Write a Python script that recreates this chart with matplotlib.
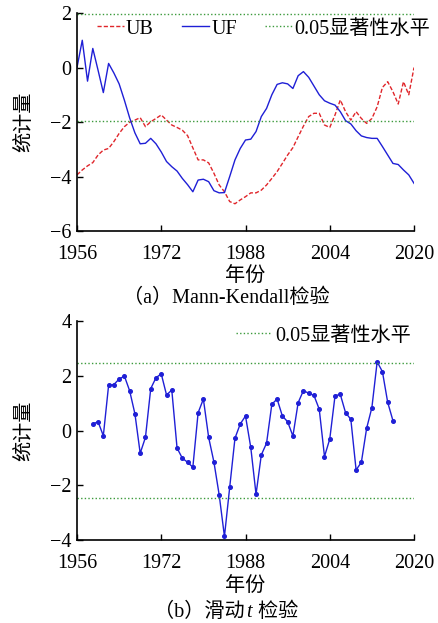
import numpy as np
import matplotlib
matplotlib.use("Agg")
import matplotlib.pyplot as plt
from matplotlib.offsetbox import TextArea, HPacker, AnchoredOffsetbox

plt.rcParams['font.family'] = ['Liberation Serif', 'Noto Sans CJK SC']
plt.rcParams['axes.unicode_minus'] = True

# ---- data ----
mk_years = np.arange(1956, 2021)
uf = [0.0, 1.0, -0.5, 0.7, -0.1, -0.92, 0.15, -0.2, -0.6, -1.2,
      -1.85, -2.4, -2.8, -2.78, -2.6, -2.8, -3.1, -3.45, -3.64, -3.8,
      -4.07, -4.3, -4.56, -4.13, -4.1, -4.19, -4.52, -4.6, -4.59, -4.0,
      -3.39, -2.97, -2.66, -2.63, -2.35, -1.8, -1.5, -1.0, -0.62, -0.56,
      -0.6, -0.77, -0.3, -0.15, -0.36, -0.68, -1.0, -1.22, -1.31, -1.38,
      -1.62, -1.95, -2.07, -2.32, -2.51, -2.57, -2.6, -2.6, -2.9, -3.21,
      -3.52, -3.56, -3.76, -3.94, -4.25]
ub = [-3.94, -3.76, -3.61, -3.49, -3.21, -3.03, -2.97, -2.72, -2.42, -2.17,
      -2.01, -1.93, -1.84, -2.17, -1.99, -1.87, -1.74, -1.93, -2.11, -2.2,
      -2.3, -2.5, -2.95, -3.39, -3.39, -3.5, -3.88, -4.31, -4.56, -4.92,
      -5.0, -4.86, -4.74, -4.6, -4.6, -4.5, -4.31, -4.07, -3.82, -3.52,
      -3.21, -2.94, -2.54, -2.15, -1.8, -1.68, -1.68, -2.11, -2.2, -1.74,
      -1.19, -1.62, -1.93, -1.62, -1.87, -2.05, -1.87, -1.44, -0.73, -0.52,
      -0.89, -1.34, -0.52, -1.0, 0.0]
mk_crit = 1.96

t_years = np.arange(1959, 2017)
t_stat = [0.24, 0.32, -0.19, 1.65, 1.68, 1.88, 1.99, 1.45, 0.61, -0.83,
          -0.25, 1.53, 1.93, 2.07, 1.30, 1.48, -0.64, -1.01, -1.16, -1.34,
          0.65, 1.15, -0.25, -1.15, -2.35, -3.87, -2.07, -0.28, 0.24, 0.53,
          -0.62, -2.33, -0.89, -0.46, 0.96, 1.15, 0.53, 0.32, -0.20, 1.02,
          1.46, 1.36, 1.28, 0.78, -0.95, -0.31, 1.27, 1.32, 0.65, 0.41,
          -1.44, -1.16, 0.08, 0.84, 2.51, 2.15, 1.03, 0.36]
t_crit = 2.45

xticks = [1956, 1972, 1988, 2004, 2020]
fs = 14.5
blue = '#1f1fd6'
red = '#e0262b'
green = '#3c9a3c'
dots = (0, (1, 1.6))

fig = plt.figure(figsize=(4.39, 6.23), dpi=100)
ax1 = fig.add_axes([0.1754, 0.6292, 0.7677, 0.3499])
ax2 = fig.add_axes([0.1754, 0.1332, 0.7677, 0.3515])


def style_axis(ax, ylim, yticks):
    ax.set_xlim(1956, 2020)
    ax.set_ylim(*ylim)
    ax.set_xticks(xticks)
    ax.set_yticks(yticks)
    for s in ['top', 'right']:
        ax.spines[s].set_visible(False)
    for s in ['left', 'bottom']:
        ax.spines[s].set_linewidth(1.2)
    ax.tick_params(direction='in', length=4, width=1, labelsize=fs)
    ax.tick_params(axis='x', pad=10)
    ax.tick_params(axis='y', pad=4)
    ax.set_ylabel('统计量', fontsize=fs, va='center')
    ax.yaxis.set_label_coords(-0.155, 0.5)
    ax.set_xlabel('年份', fontsize=fs, va='center')
    ax.xaxis.set_label_coords(0.5, -0.21)


# (a) Mann-Kendall
ax1.plot(mk_years, ub, color=red, lw=1.0, ls=(0, (3, 1.5)), label='UB')
ax1.plot(mk_years, uf, color=blue, lw=1.0, label='UF')
ax1.axhline(mk_crit, color=green, lw=1.0, ls=dots, label='0.05显著性水平')
ax1.axhline(-mk_crit, color=green, lw=1.0, ls=dots)
style_axis(ax1, (-6, 2), [-6, -4, -2, 0, 2])
ax1.legend(loc='center left', bbox_to_anchor=(0.221, 0.9535),
           bbox_transform=fig.transFigure, ncol=3, frameon=False,
           fontsize=fs, handlelength=1.34, handletextpad=0.1,
           columnspacing=1.4, borderpad=0, borderaxespad=0)

# (b) moving t-test
ax2.plot(t_years, t_stat, color=blue, lw=1.0, marker='o', markersize=2.6)
ax2.axhline(t_crit, color=green, lw=1.0, ls=dots, label='0.05显著性水平')
ax2.axhline(-t_crit, color=green, lw=1.0, ls=dots)
style_axis(ax2, (-4, 4), [-4, -2, 0, 2, 4])
h, l = ax2.get_legend_handles_labels()
ax2.legend(h, l, loc='center left', bbox_to_anchor=(0.5376, 0.4607),
           bbox_transform=fig.transFigure, frameon=False, fontsize=fs,
           handlelength=1.69, handletextpad=0.25, borderpad=0, borderaxespad=0)

# captions
fig.text(0.515, 1 - 298 / 623, '（a）Mann-Kendall检验', ha='center', va='center',
         fontsize=fs)

parts = [TextArea('（b）滑动', textprops=dict(size=fs)),
         TextArea('t', textprops=dict(size=fs, family='Liberation Serif', style='italic')),
         TextArea(' 检验', textprops=dict(size=fs))]
cap = HPacker(children=parts, align='baseline', pad=0, sep=1)
anch = AnchoredOffsetbox(loc='center', child=cap, frameon=False, pad=0, borderpad=0,
                         bbox_to_anchor=(0.515, 1 - 612 / 623),
                         bbox_transform=fig.transFigure)
fig.add_artist(anch)

fig.savefig('out.png', dpi=100)
